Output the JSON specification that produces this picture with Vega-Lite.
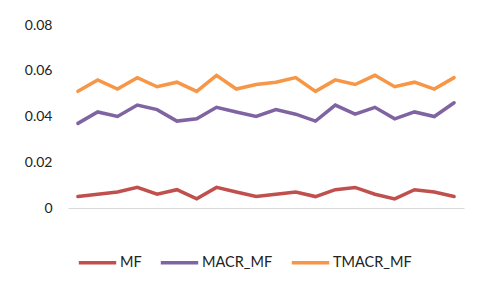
{
  "$schema": "https://vega.github.io/schema/vega-lite/v6.json",
  "width": 396,
  "height": 183,
  "autosize": "none",
  "padding": {"left": 68, "top": 25, "right": 22, "bottom": 82},
  "background": "white",
  "config": {"view": {"stroke": null}, "font": "Lato"},
  "data": {"values": [
    {"i":1,"s":"MF","v":0.005},{"i":2,"s":"MF","v":0.006},{"i":3,"s":"MF","v":0.007},{"i":4,"s":"MF","v":0.009},{"i":5,"s":"MF","v":0.006},
    {"i":6,"s":"MF","v":0.008},{"i":7,"s":"MF","v":0.004},{"i":8,"s":"MF","v":0.009},{"i":9,"s":"MF","v":0.007},{"i":10,"s":"MF","v":0.005},
    {"i":11,"s":"MF","v":0.006},{"i":12,"s":"MF","v":0.007},{"i":13,"s":"MF","v":0.005},{"i":14,"s":"MF","v":0.008},{"i":15,"s":"MF","v":0.009},
    {"i":16,"s":"MF","v":0.006},{"i":17,"s":"MF","v":0.004},{"i":18,"s":"MF","v":0.008},{"i":19,"s":"MF","v":0.007},{"i":20,"s":"MF","v":0.005},
    {"i":1,"s":"MACR_MF","v":0.037},{"i":2,"s":"MACR_MF","v":0.042},{"i":3,"s":"MACR_MF","v":0.040},{"i":4,"s":"MACR_MF","v":0.045},{"i":5,"s":"MACR_MF","v":0.043},
    {"i":6,"s":"MACR_MF","v":0.038},{"i":7,"s":"MACR_MF","v":0.039},{"i":8,"s":"MACR_MF","v":0.044},{"i":9,"s":"MACR_MF","v":0.042},{"i":10,"s":"MACR_MF","v":0.040},
    {"i":11,"s":"MACR_MF","v":0.043},{"i":12,"s":"MACR_MF","v":0.041},{"i":13,"s":"MACR_MF","v":0.038},{"i":14,"s":"MACR_MF","v":0.045},{"i":15,"s":"MACR_MF","v":0.041},
    {"i":16,"s":"MACR_MF","v":0.044},{"i":17,"s":"MACR_MF","v":0.039},{"i":18,"s":"MACR_MF","v":0.042},{"i":19,"s":"MACR_MF","v":0.040},{"i":20,"s":"MACR_MF","v":0.046},
    {"i":1,"s":"TMACR_MF","v":0.051},{"i":2,"s":"TMACR_MF","v":0.056},{"i":3,"s":"TMACR_MF","v":0.052},{"i":4,"s":"TMACR_MF","v":0.057},{"i":5,"s":"TMACR_MF","v":0.053},
    {"i":6,"s":"TMACR_MF","v":0.055},{"i":7,"s":"TMACR_MF","v":0.051},{"i":8,"s":"TMACR_MF","v":0.058},{"i":9,"s":"TMACR_MF","v":0.052},{"i":10,"s":"TMACR_MF","v":0.054},
    {"i":11,"s":"TMACR_MF","v":0.055},{"i":12,"s":"TMACR_MF","v":0.057},{"i":13,"s":"TMACR_MF","v":0.051},{"i":14,"s":"TMACR_MF","v":0.056},{"i":15,"s":"TMACR_MF","v":0.054},
    {"i":16,"s":"TMACR_MF","v":0.058},{"i":17,"s":"TMACR_MF","v":0.053},{"i":18,"s":"TMACR_MF","v":0.055},{"i":19,"s":"TMACR_MF","v":0.052},{"i":20,"s":"TMACR_MF","v":0.057}
  ]},
  "mark": {"type": "line", "strokeWidth": 3.5, "strokeJoin": "miter", "strokeCap": "round"},
  "encoding": {
    "x": {"field": "i", "type": "ordinal", "scale": {"type": "point", "padding": 0.5},
      "axis": {"title": null, "labels": false, "ticks": false, "domainColor": "#d9d9d9", "domainWidth": 1.2, "grid": false}},
    "y": {"field": "v", "type": "quantitative", "scale": {"domain": [0, 0.08], "nice": false},
      "axis": {"title": null, "values": [0, 0.02, 0.04, 0.06, 0.08], "labelExpr": "datum.value == 0 ? '0' : format(datum.value, '.2f')", "domain": false, "ticks": false, "grid": false, "labelFontSize": 14, "labelColor": "#222", "labelPadding": 16}},
    "color": {"field": "s", "type": "nominal",
      "scale": {"domain": ["MF", "MACR_MF", "TMACR_MF"], "range": ["#C0504D", "#8064A2", "#F79646"]},
      "legend": {"title": null, "orient": "none", "direction": "horizontal", "legendX": 9, "legendY": 217, "symbolType": "stroke", "symbolSize": 1400, "symbolStrokeWidth": 3.5, "labelFontSize": 14.5, "labelColor": "#222", "labelOffset": 2, "columnPadding": 11}}
  }
}
